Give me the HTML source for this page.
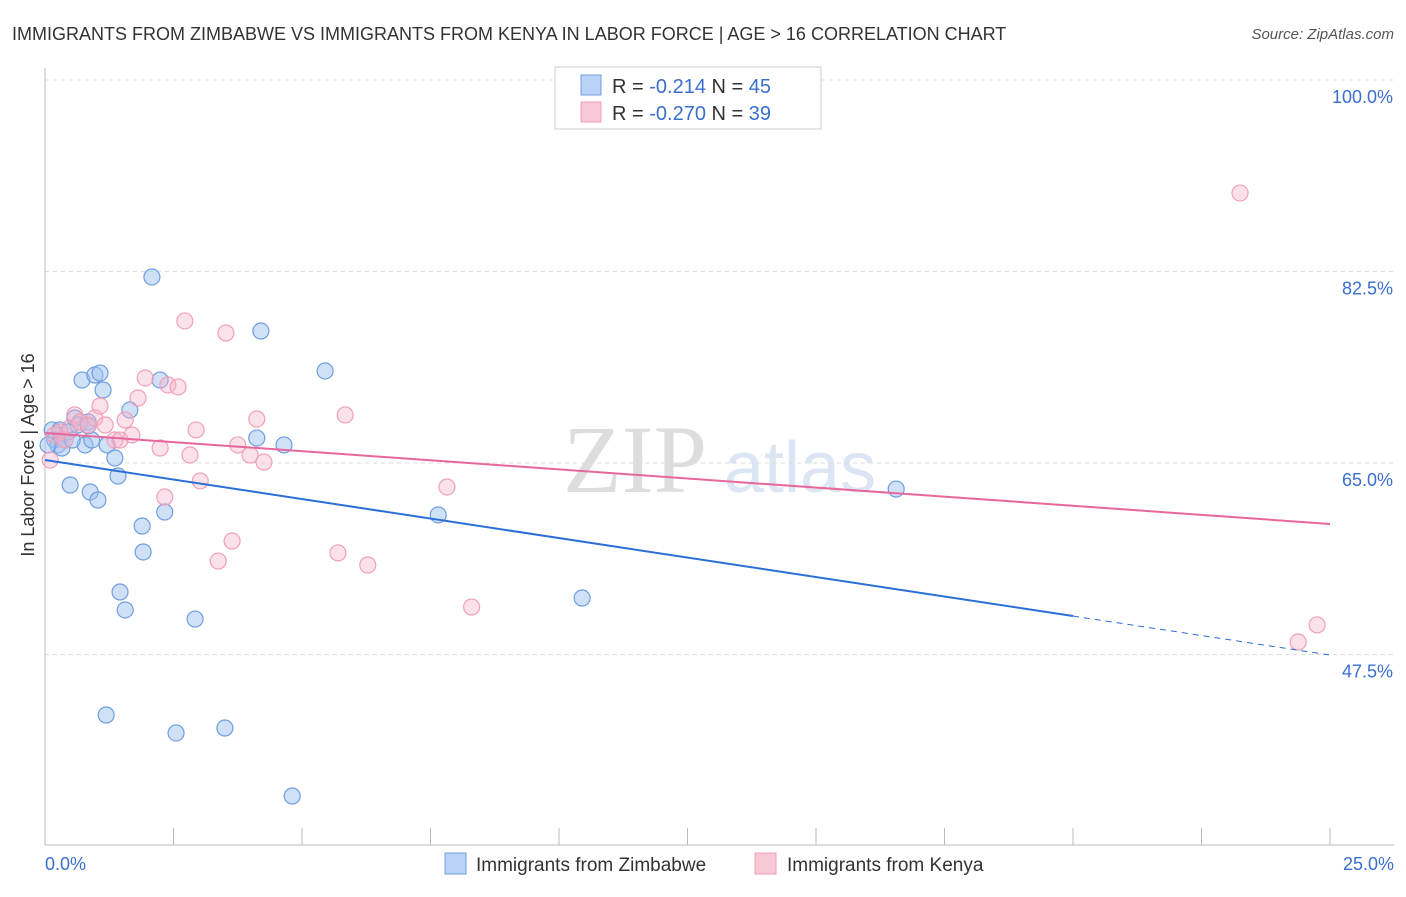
<!DOCTYPE html>
<html><head><meta charset="utf-8"><style>
body{margin:0;background:#fff;font-family:"Liberation Sans",sans-serif;}
</style></head><body>
<svg id="chart" width="1406" height="892" xmlns="http://www.w3.org/2000/svg" style="font-family:'Liberation Sans',sans-serif">
<text x="12" y="40" font-size="18" fill="#333">IMMIGRANTS FROM ZIMBABWE VS IMMIGRANTS FROM KENYA IN LABOR FORCE | AGE &gt; 16 CORRELATION CHART</text>
<text x="1394" y="39" font-size="15" fill="#555" text-anchor="end" font-style="italic">Source: ZipAtlas.com</text>
<text x="635" y="492" font-size="96" fill="#ddd" font-family="Liberation Serif,serif" text-anchor="middle">ZIP</text>
<text x="800" y="492" font-size="72" fill="#dbe5f3" text-anchor="middle">atlas</text>
<g id="grid"></g><g id="axes"></g><g id="marks"></g>
<text transform="translate(34,455) rotate(-90)" font-size="18" fill="#333" text-anchor="middle">In Labor Force | Age &gt; 16</text>
<g>
<rect x="555" y="67" width="266" height="62" fill="#fff" stroke="#ccc"/>
<rect x="581" y="75" width="20" height="20" fill="#b9d2f5" stroke="#6f9de0"/>
<text x="612" y="93" font-size="20" fill="#333">R = <tspan fill="#3a6fd0">-0.214</tspan>   N = <tspan fill="#3a6fd0">45</tspan></text>
<rect x="581" y="102" width="20" height="20" fill="#f8c8d6" stroke="#f0a0b8"/>
<text x="612" y="120" font-size="20" fill="#333">R = <tspan fill="#3a6fd0">-0.270</tspan>   N = <tspan fill="#3a6fd0">39</tspan></text>
</g>
<g>
<rect x="445" y="853" width="21" height="21" fill="#b9d2f5" stroke="#6f9de0"/>
<text x="476" y="871" font-size="19" fill="#333">Immigrants from Zimbabwe</text>
<rect x="755" y="853" width="21" height="21" fill="#f8c8d6" stroke="#f0a0b8"/>
<text x="787" y="871" font-size="19" fill="#333">Immigrants from Kenya</text>
</g>
</svg>
<script>
const yTicks=[100,82.5,65,47.5];
const yTickLabels=["100.0%","82.5%","65.0%","47.5%"];
const xTickCount=10;
const zimX=[0.14,0.19,0.25,0.33,0.39,0.49,0.58,0.64,0.72,0.78,0.84,0.88,0.91,0.97,1.03,1.07,1.13,1.21,1.36,1.42,1.46,1.56,1.65,1.89,1.91,2.08,2.24,2.33,2.55,2.92,1.19,3.50,4.12,4.20,4.65,4.81,5.45,7.65,10.45,16.56,0.06,0.29,0.45,0.53,0.84];
const zimY=[68.02,67.10,66.65,66.37,67.10,62.99,69.11,68.47,72.58,66.65,68.75,62.35,67.10,73.04,61.62,73.22,71.67,66.65,65.46,63.81,53.21,51.57,69.84,59.24,56.87,82.00,72.58,60.52,40.33,50.74,41.97,40.78,67.28,77.06,66.65,34.57,73.41,60.25,52.66,62.62,66.65,68.02,67.83,67.10,68.4];
const kenX=[0.10,0.19,0.29,0.39,0.49,0.58,0.68,0.84,0.97,1.07,1.17,1.36,1.46,1.56,1.69,1.81,1.95,2.24,2.33,2.39,2.59,2.72,2.82,2.94,3.02,3.37,3.52,3.64,3.75,3.99,4.12,4.26,5.70,5.84,6.28,7.82,8.30,23.25,24.38,24.75];
const kenY=[65.27,67.56,67.83,67.10,68.20,69.39,68.75,68.47,69.11,70.21,68.47,67.10,67.10,68.93,67.56,70.94,72.77,66.37,61.89,72.13,71.95,77.98,65.73,68.02,63.36,56.04,76.88,57.87,66.65,65.73,69.02,65.09,56.78,69.39,55.68,62.81,51.84,89.67,48.64,50.20];
const zimTrend=[65.27,47.45];const zimSolidEnd=20.0;
const kenTrend=[67.74,59.43];
const X=v=>45+v/25*1285;
const Y=v=>80+(100-v)*191.5/17.5;
const NS="http://www.w3.org/2000/svg";
function mk(t,a,p){const e=document.createElementNS(NS,t);for(const k in a)e.setAttribute(k,a[k]);p.appendChild(e);return e;}
const grid=document.getElementById('grid'),axes=document.getElementById('axes'),marks=document.getElementById('marks');
yTicks.forEach((t,i)=>{
 const l=mk('line',{x1:45,x2:1394,y1:Y(t),y2:Y(t),stroke:'#ddd','stroke-dasharray':'4,4'},grid);
 
 
 const tx=mk('text',{x:1393,y:Y(t)+23,'font-size':18,fill:'#3a6fd0','text-anchor':'end'},axes);tx.textContent=yTickLabels[i];
 
 
});
const ax=mk('line',{x1:45,x2:45,y1:68,y2:845,stroke:'#bbb'},axes);


const bx=mk('line',{x1:45,x2:1394,y1:845,y2:845,stroke:'#bbb'},axes);


for(let i=0;i<=xTickCount;i++){const v=25*i/xTickCount;const t=mk('line',{x1:X(v),x2:X(v),y1:828,y2:845,stroke:'#bbb'},axes);
 
 }
const x0=mk('text',{x:45,y:870,'font-size':18,fill:'#3a6fd0'},axes);x0.textContent='0.0%';


const x1=mk('text',{x:1394,y:870,'font-size':18,fill:'#3a6fd0','text-anchor':'end'},axes);x1.textContent='25.0%';


zimX.forEach((v,i)=>{const c=mk('circle',{cx:X(v),cy:Y(zimY[i]),r:8,fill:'rgba(160,195,240,0.5)',stroke:'#6f9de0','stroke-width':1.2},marks);
 
 });
kenX.forEach((v,i)=>{const c=mk('circle',{cx:X(v),cy:Y(kenY[i]),r:8,fill:'rgba(245,180,200,0.4)',stroke:'#f0a0b8','stroke-width':1.2},marks);
 
 });
const zy=v=>zimTrend[0]+(zimTrend[1]-zimTrend[0])*v/25;
const l1=mk('line',{x1:X(0),y1:Y(zimTrend[0]),x2:X(zimSolidEnd),y2:Y(zy(zimSolidEnd)),stroke:'#2a6fd6','stroke-width':2},marks);


const l2=mk('line',{x1:X(zimSolidEnd),y1:Y(zy(zimSolidEnd)),x2:X(25),y2:Y(zimTrend[1]),stroke:'#2a6fd6','stroke-width':1,'stroke-dasharray':'6,5'},marks);


const l3=mk('line',{x1:X(0),y1:Y(kenTrend[0]),x2:X(25),y2:Y(kenTrend[1]),stroke:'#e8679a','stroke-width':2},marks);


</script>
</body></html>
